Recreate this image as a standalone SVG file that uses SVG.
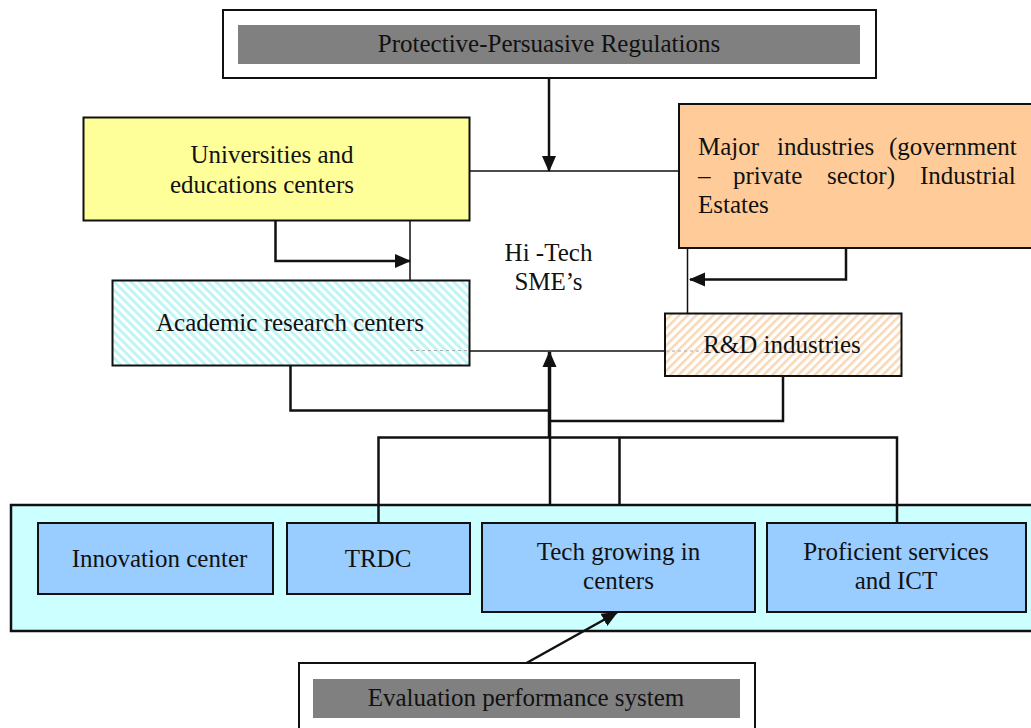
<svg xmlns="http://www.w3.org/2000/svg" width="1031" height="728" viewBox="0 0 1031 728">
<style>
text{font-family:"Liberation Serif","Times New Roman",serif;font-size:25px;fill:#111}
.c{text-anchor:middle}
.box{stroke:#111;stroke-width:2}
.thin{fill:none;stroke:#111;stroke-width:1.5}
.con{fill:none;stroke:#111;stroke-width:2.5}
</style>
<defs>
<pattern id="hatchA" width="6" height="6" patternUnits="userSpaceOnUse" patternTransform="rotate(-45)">
<rect width="6" height="6" fill="#fff"/><rect width="3" height="6" fill="#bff5f5"/>
</pattern>
<pattern id="hatchR" width="6" height="6" patternUnits="userSpaceOnUse" patternTransform="rotate(45)">
<rect width="6" height="6" fill="#fff"/><rect width="2.5" height="6" fill="#f8d8b4"/>
</pattern>
<marker id="ahL" markerWidth="16" markerHeight="16" refX="15" refY="7" orient="auto" markerUnits="userSpaceOnUse" viewBox="0 0 16 14">
<path d="M0,0 L16,7 L0,14 z" fill="#111"/>
</marker>
</defs>

<g id="hitech">
<rect x="410" y="171" width="277.5" height="180" fill="#fff" class="thin"/>
<text class="c" x="548.5" y="261">Hi -Tech</text>
<text class="c" x="548.5" y="290">SME’s</text>
</g>

<g id="regulations">
<rect x="223" y="10" width="653" height="68" fill="#fff" class="box"/>
<rect x="238" y="25" width="622" height="39" fill="#808080"/>
<text class="c" x="549" y="52">Protective-Persuasive Regulations</text>
</g>

<g id="universities">
<rect x="83.5" y="117.5" width="386" height="103" fill="#ffff99" class="box"/>
<text class="c" x="272" y="163">Universities and</text>
<text class="c" x="262" y="193">educations centers</text>
</g>

<g id="major">
<rect x="679" y="104" width="360" height="144" fill="#ffcc99" class="box"/>
<text y="155"><tspan x="698">Major</tspan><tspan x="777">industries</tspan><tspan x="889">(government</tspan></text>
<text y="184"><tspan x="698">–</tspan><tspan x="733">private</tspan><tspan x="827">sector)</tspan><tspan x="920">Industrial</tspan></text>
<text x="698" y="213">Estates</text>
</g>

<g id="academic">
<rect x="112.5" y="280.5" width="357" height="85" fill="url(#hatchA)" class="box"/>
<line x1="410" y1="350.5" x2="468" y2="350.5" stroke="#aaa" stroke-width="1" stroke-dasharray="3,3"/>
<text class="c" x="290" y="331">Academic research centers</text>
</g>

<g id="rnd">
<rect x="665" y="313.5" width="236.5" height="62.5" fill="url(#hatchR)" class="box"/>
<line x1="666" y1="351" x2="700" y2="351" stroke="#aaa" stroke-width="1" stroke-dasharray="3,3"/>
<text class="c" x="782" y="353">R&amp;D industries</text>
</g>

<g id="container">
<rect x="11" y="505" width="1030" height="126" fill="#ccffff" stroke="#111" stroke-width="2.5"/>
</g>

<g id="innovation">
<rect x="38" y="523" width="235" height="71" fill="#99ccff" class="box"/>
<text class="c" x="159.5" y="567">Innovation center</text>
</g>
<g id="trdc">
<rect x="287" y="523" width="183" height="71" fill="#99ccff" class="box"/>
<text class="c" x="378" y="567">TRDC</text>
</g>
<g id="techgrowing">
<rect x="482" y="523" width="273" height="89" fill="#99ccff" class="box"/>
<text class="c" x="618.5" y="560">Tech growing in</text>
<text class="c" x="618.5" y="589">centers</text>
</g>
<g id="proficient">
<rect x="767" y="523" width="259" height="89" fill="#99ccff" class="box"/>
<text class="c" x="896" y="560">Proficient services</text>
<text class="c" x="896" y="589">and ICT</text>
</g>

<g id="evaluation">
<rect x="299" y="663" width="456" height="80" fill="#fff" class="box"/>
<rect x="313" y="679" width="427" height="39" fill="#808080"/>
<text class="c" x="526" y="706">Evaluation performance system</text>
</g>

<g id="connectors">
<line x1="549" y1="78" x2="549" y2="171" class="con" stroke-width="2" marker-end="url(#ahL)"/>
<polyline points="275.5,220 275.5,261 410,261" class="con" marker-end="url(#ahL)"/>
<polyline points="846,248 846,279.5 690,279.5" class="con" marker-end="url(#ahL)"/>
<polyline points="290.5,366 290.5,410.5 549,410.5" class="con"/>
<polyline points="783,376 783,421 549,421" class="con"/>
<line x1="549.5" y1="437" x2="549.5" y2="352" stroke="#111" stroke-width="3.5" marker-end="url(#ahL)"/>
<polyline points="378.5,523 378.5,437.5 897,437.5 897,523" class="con"/>
<line x1="550" y1="437" x2="550" y2="505" class="con"/>
<line x1="619.5" y1="437" x2="619.5" y2="505" class="con"/>
<line x1="526.5" y1="663" x2="617" y2="612.5" class="con" marker-end="url(#ahL)"/>
</g>
</svg>
